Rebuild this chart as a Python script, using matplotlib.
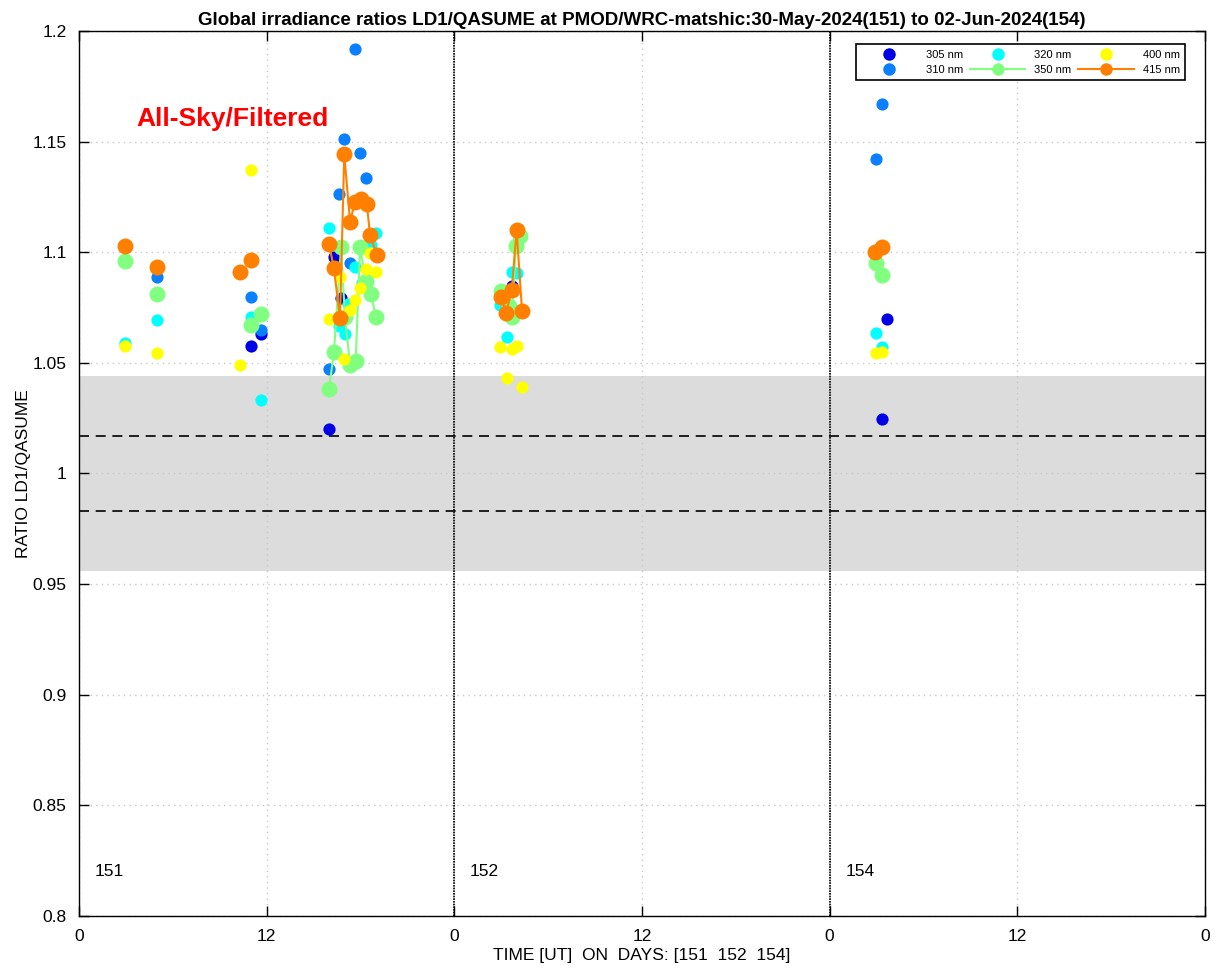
import matplotlib.pyplot as plt
import numpy as np

plt.rcParams['font.family'] = ['Liberation Sans', 'DejaVu Sans']

# time axis: hours from 00 UT of the first day, days 151 / 152 / 154 side by side
days = [151, 152, 154]

t305 = [11.0, 11.64, 15.98, 16.30, 16.73, 27.69, 51.32, 51.64]
r305 = [1.0576, 1.063, 1.020, 1.098, 1.0793, 1.0847, 1.0245, 1.0697]

t310 = [4.99, 11.0, 11.64, 15.98, 16.65, 16.97, 17.33, 17.65, 17.99, 18.33, 50.96, 51.32]
r310 = [1.0888, 1.0798, 1.065, 1.0471, 1.1262, 1.151, 1.0953, 1.192, 1.1447, 1.1334, 1.1421, 1.1668]

t320 = [2.94, 4.99, 11.0, 11.64, 15.98, 16.62, 16.98, 17.22, 17.65, 18.08, 18.67, 18.99,
        26.92, 27.37, 27.69, 28.01, 50.96, 51.32]
r320 = [1.059, 1.0694, 1.0707, 1.0332, 1.1111, 1.0666, 1.0629, 1.0766, 1.0934, 1.086, 1.1033, 1.1088,
        1.0762, 1.0615, 1.0912, 1.0907, 1.0636, 1.057]

t350 = [2.94, 4.99, 11.0, 11.64, 15.98, 16.30, 16.75, 17.01, 17.33, 17.69, 17.97, 18.33, 18.67, 18.99,
        26.98, 27.51, 27.67, 27.94, 28.20, 50.96, 51.32]
r350 = [1.096, 1.0811, 1.067, 1.072, 1.038, 1.0548, 1.1022, 1.0705, 1.049, 1.051, 1.1022, 1.0871, 1.081, 1.0706,
        1.0826, 1.0757, 1.0709, 1.103, 1.1073, 1.0953, 1.0897]

t400 = [2.94, 4.99, 10.29, 11.0, 15.98, 16.69, 16.96, 17.33, 17.65, 17.97, 18.33, 18.61, 18.99,
        26.92, 27.37, 27.69, 28.01, 28.33, 50.96, 51.32]
r400 = [1.0576, 1.0545, 1.049, 1.137, 1.0697, 1.089, 1.0518, 1.0739, 1.0784, 1.0837, 1.0922, 1.0995, 1.0912,
        1.057, 1.0433, 1.0561, 1.0577, 1.039, 1.0546, 1.055]

t415 = [2.94, 4.99, 10.29, 11.0, 15.98, 16.30, 16.69, 16.96, 17.33, 17.65, 18.01, 18.40, 18.61, 19.04,
        26.98, 27.31, 27.67, 27.98, 28.33, 50.90, 51.32]
r415 = [1.1028, 1.0933, 1.091, 1.0965, 1.1039, 1.0927, 1.0701, 1.1443, 1.1138, 1.1229, 1.1239, 1.1218, 1.1078, 1.0988,
        1.0796, 1.0727, 1.0829, 1.1101, 1.0734, 1.1003, 1.1025]

band = (0.956, 1.044)
limits = (0.983, 1.017)


def with_gaps(t, r, maxgap=0.5):
    # break the line wherever two scans are further apart than maxgap hours
    tt, rr = [t[0]], [r[0]]
    for i in range(1, len(t)):
        if t[i] - t[i - 1] > maxgap:
            tt.append(np.nan)
            rr.append(np.nan)
        tt.append(t[i])
        rr.append(r[i])
    return tt, rr


fig = plt.figure(figsize=(12.18, 9.8), dpi=100)
ax = fig.add_axes([0.0649, 0.0653, 0.9244, 0.9031])

ax.axhspan(band[0], band[1], color='#dcdcdc', lw=0, zorder=0)
for y in limits:
    ax.axhline(y, color='k', ls=(0, (6, 4)), lw=1.2, zorder=1)
for x in [24, 48]:
    ax.axvline(x, color='k', ls=(0, (1, 0.6)), lw=1.2, zorder=1)

ax.plot(t305, r305, 'o', color='#0000e6', ms=8.8, mec='none', label='305 nm', zorder=3)
ax.plot(t310, r310, 'o', color='#0a80ff', ms=8.8, mec='none', label='310 nm', zorder=3)
ax.plot(t320, r320, 'o', color='#00ffff', ms=8.8, mec='none', label='320 nm', zorder=3)
x, y = with_gaps(t350, r350)
ax.plot(x, y, '-o', color='#80ff80', ms=11.5, mec='none', lw=1.5, label='350 nm', zorder=3)
ax.plot(t400, r400, 'o', color='#ffff00', ms=8.8, mec='none', label='400 nm', zorder=3)
x, y = with_gaps(t415, r415)
ax.plot(x, y, '-o', color='#ff8000', ms=11.5, mec='none', lw=1.5, label='415 nm', zorder=3)

ax.set_xlim(0, 72)
ax.set_ylim(0.8, 1.2)
ax.set_xticks(np.arange(0, 73, 12))
ax.set_xticklabels(['0', '12', '0', '12', '0', '12', '0'])
ax.set_yticks(np.arange(0.8, 1.201, 0.05))
ax.set_yticklabels(['0.8', '0.85', '0.9', '0.95', '1', '1.05', '1.1', '1.15', '1.2'])
ax.grid(True, color='#c8c8c8', ls=(0, (1, 3)), lw=1)
ax.set_axisbelow(True)
ax.tick_params(direction='in', length=7, width=1, top=True, right=True, labelsize=12.5, pad=9)
for s in ax.spines.values():
    s.set_linewidth(1)

for i, d in enumerate(days):
    ax.text(24 * i + 1.0, 0.82, str(d), fontsize=12.5, va='center')

ax.text(3.65, 1.1602, 'All-Sky/Filtered', color='red', fontsize=19, fontweight='bold', va='center')

ax.set_title('Global irradiance ratios LD1/QASUME at PMOD/WRC-matshic:30-May-2024(151) to 02-Jun-2024(154)',
             fontsize=13.5, fontweight='bold', pad=4)
ax.set_xlabel('TIME [UT]  ON  DAYS: [151  152  154]', fontsize=12.5, labelpad=3)
ax.set_ylabel('RATIO LD1/QASUME', fontsize=12.5, labelpad=1)

leg = ax.legend(ncol=3, loc='upper right', bbox_to_anchor=(0.9875, 0.9915), fontsize=8,
                handlelength=5, columnspacing=0.6, handletextpad=0.8, borderpad=0.5,
                labelspacing=0.45, fancybox=False, framealpha=1, edgecolor='k')
leg.get_frame().set_linewidth(1.2)
for h in leg.legend_handles:
    h.set_markersize(9)

fig.savefig('out.png', dpi=100)
